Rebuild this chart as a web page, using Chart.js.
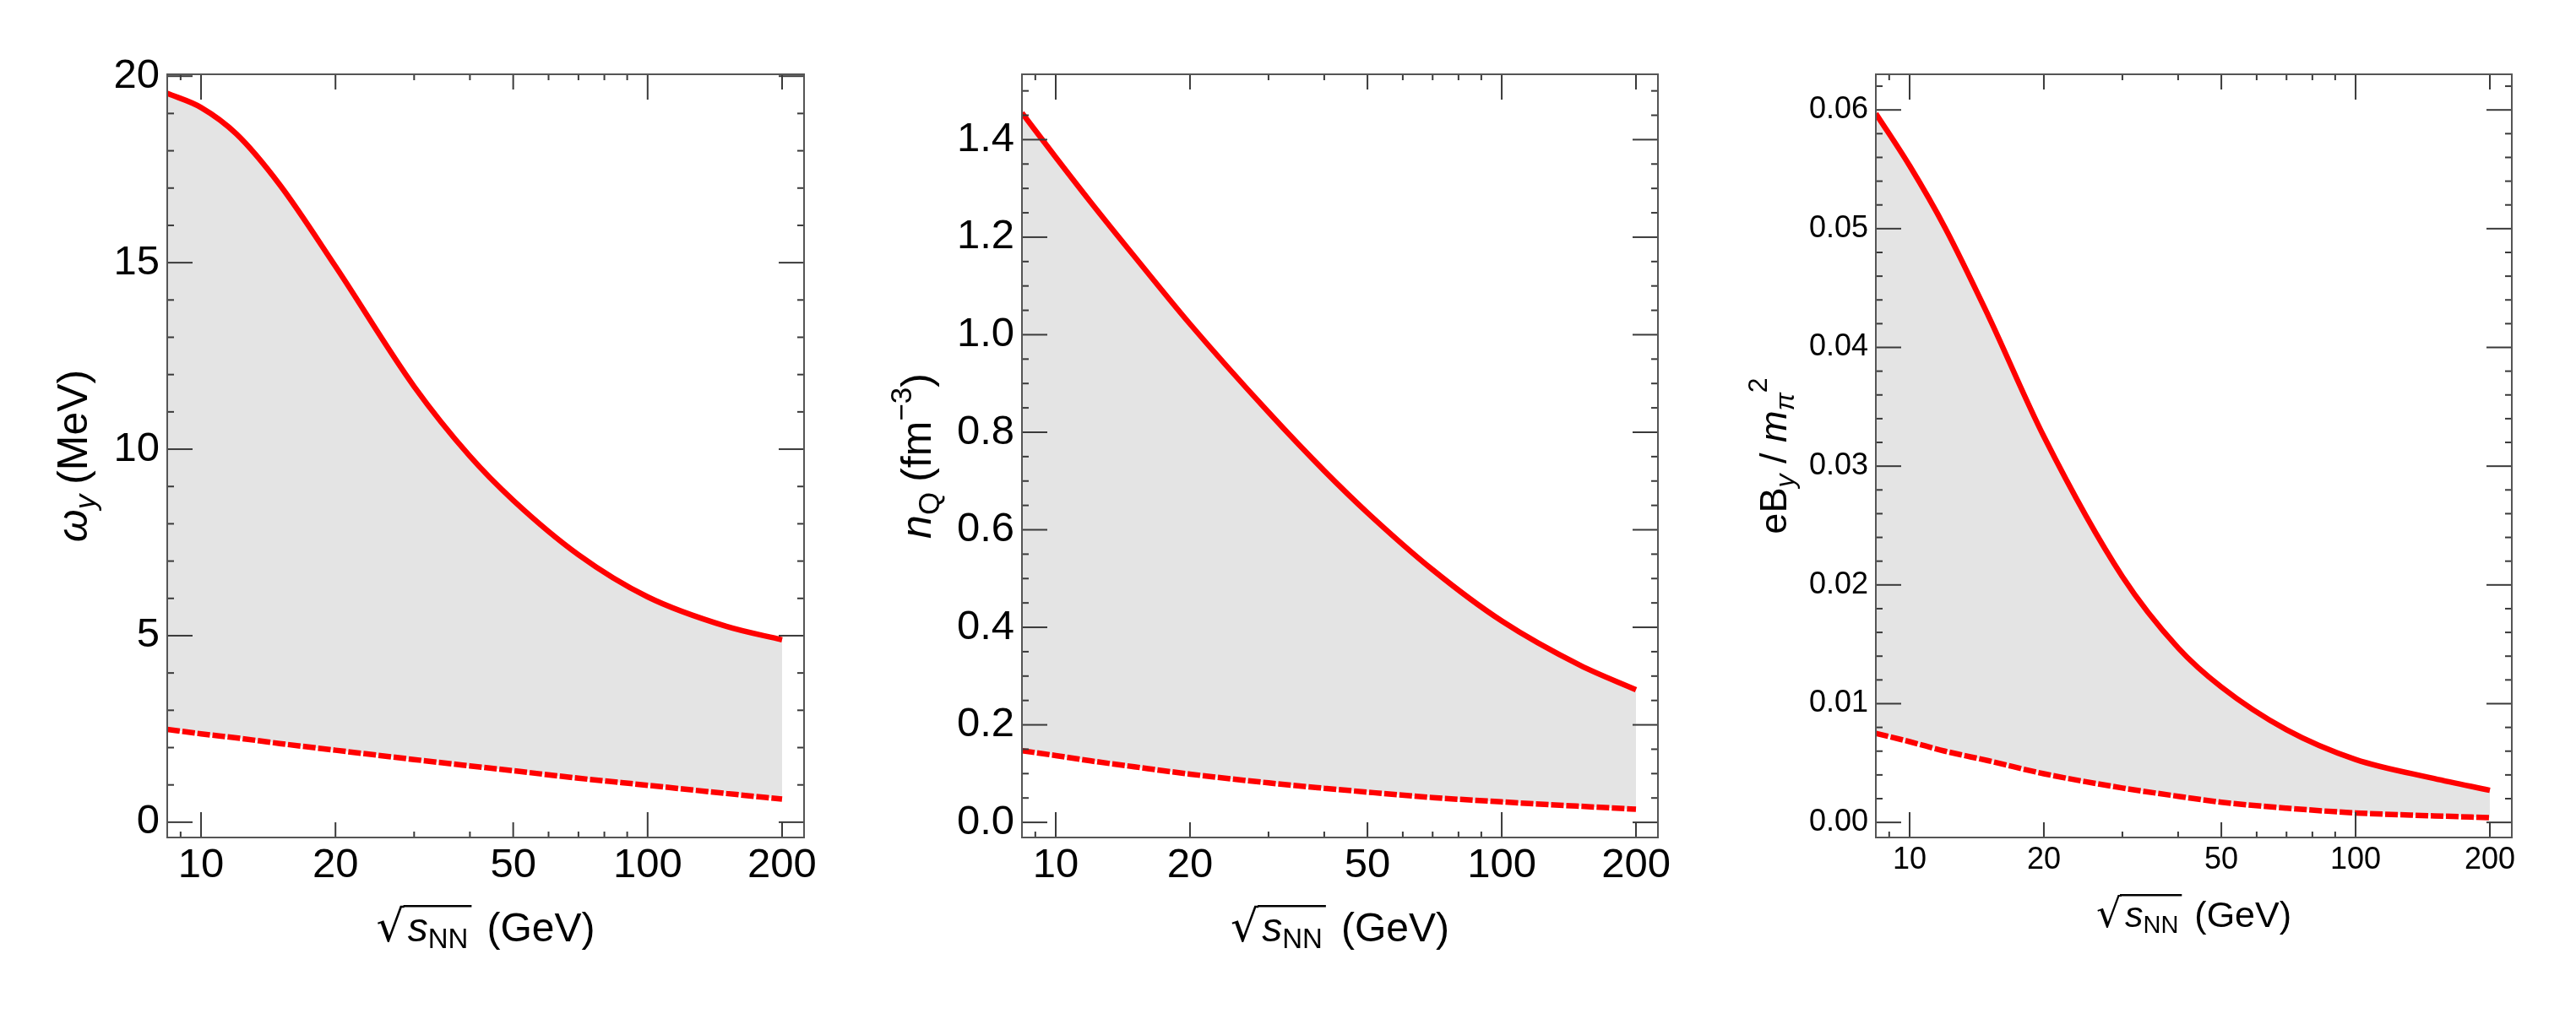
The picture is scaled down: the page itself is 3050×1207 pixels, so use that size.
<!DOCTYPE html>
<html>
<head>
<meta charset="utf-8">
<script src="https://cdn.jsdelivr.net/npm/chart.js@4.4.1/dist/chart.umd.min.js"></script>
<style>
html, body { margin: 0; padding: 0; background: #fff; }
#wrap { position: relative; width: 3050px; height: 1207px; }
canvas { position: absolute; top: 0; }
</style>
</head>
<body>
<div id="wrap">
  <canvas id="omegaChart" width="1012" height="1207" style="left:0px"></canvas>
  <canvas id="chargeChart" width="1012" height="1207" style="left:1012px"></canvas>
  <canvas id="fieldChart" width="1012" height="1207" style="left:2023px"></canvas>
</div>
<script>
// sqrt(s_NN) in GeV
const energies = [8.4, 10, 12, 15, 20, 30, 40, 50, 70, 100, 150, 200];

// omega_y (MeV)
const omegaUpper = [19.54, 19.16, 18.45, 17.09, 14.90, 11.68, 9.81, 8.63, 7.17, 6.04, 5.25, 4.89];
const omegaLower = [2.49, 2.37, 2.26, 2.11, 1.93, 1.68, 1.51, 1.38, 1.18, 0.99, 0.77, 0.62];
// n_Q (fm^-3)
const chargeUpper = [1.455, 1.364, 1.271, 1.161, 1.022, 0.841, 0.721, 0.635, 0.518, 0.413, 0.322, 0.272];
const chargeLower = [0.147, 0.137, 0.126, 0.114, 0.099, 0.081, 0.070, 0.062, 0.051, 0.042, 0.033, 0.027];
// eB_y / m_pi^2
const fieldUpper = [0.0597, 0.0553, 0.0501, 0.0427, 0.0325, 0.0207, 0.0147, 0.0114, 0.0078, 0.0053, 0.0037, 0.0027];
const fieldLower = [0.0075, 0.0068, 0.0060, 0.0052, 0.0041, 0.0029, 0.0022, 0.0017, 0.0012, 0.0008, 0.00055, 0.0004];

const xTicks = [10, 20, 50, 100, 200];
const xTickLabels = ['10', '20', '50', '100', '200'];
const xMinorTicks = [9, 30, 40, 60, 70, 80, 90];

const omegaTicks = [0, 5, 10, 15, 20];
const omegaTickLabels = ['0', '5', '10', '15', '20'];
const chargeTicks = [0, 0.2, 0.4, 0.6, 0.8, 1.0, 1.2, 1.4];
const chargeTickLabels = ['0.0', '0.2', '0.4', '0.6', '0.8', '1.0', '1.2', '1.4'];
const fieldTicks = [0, 0.01, 0.02, 0.03, 0.04, 0.05, 0.06];
const fieldTickLabels = ['0.00', '0.01', '0.02', '0.03', '0.04', '0.05', '0.06'];

const SANS = '"Liberation Sans", Arial, sans-serif';

function minorList(step, count, majors) {
    const out = [];
    for (let k = 1; k <= count; k++) {
        const v = +(k * step).toFixed(6);
        if (!majors.some(m => Math.abs(m - v) < step / 10)) out.push(v);
    }
    return out;
}

// frame with inward ticks on all four sides
const frameTicks = {
    id: 'frameTicks',
    afterDatasetsDraw(chart, args, opts) {
        const { ctx, chartArea: a } = chart;
        const xs = chart.scales.x, ys = chart.scales.y;
        const seg = (x1, y1, x2, y2) => { ctx.beginPath(); ctx.moveTo(x1, y1); ctx.lineTo(x2, y2); ctx.stroke(); };
        ctx.save();
        ctx.lineWidth = 2;
        ctx.strokeStyle = '#3a3a3a';
        const marks = [];
        xTicks.forEach(v => marks.push([v, (v === 10 || v === 100) ? 30 : 18]));
        xMinorTicks.forEach(v => marks.push([v, 7]));
        marks.forEach(([v, len]) => {
            const px = xs.getPixelForValue(v);
            seg(px, a.bottom, px, a.bottom - len);
            seg(px, a.top, px, a.top + len);
        });
        opts.major.forEach(v => {
            const py = ys.getPixelForValue(v);
            seg(a.left, py, a.left + 30, py);
            seg(a.right, py, a.right - 30, py);
        });
        opts.minor.forEach(v => {
            const py = ys.getPixelForValue(v);
            seg(a.left, py, a.left + 8, py);
            seg(a.right, py, a.right - 8, py);
        });
        ctx.strokeStyle = '#555';
        ctx.strokeRect(a.left, a.top, a.right - a.left, a.bottom - a.top);
        ctx.restore();
    }
};

function drawRich(ctx, parts, x, y, vertical) {
    ctx.save();
    ctx.translate(x, y);
    if (vertical) ctx.rotate(-Math.PI / 2);
    ctx.fillStyle = '#000';
    ctx.textBaseline = 'alphabetic';
    ctx.textAlign = 'left';
    let total = 0;
    parts.forEach(p => {
        ctx.font = p.font;
        p.w = ctx.measureText(p.text).width;
        total += p.w + (p.after || 0);
    });
    let cx = -total / 2;
    let radTop = null, lineStart = 0, lineEnd = 0;
    parts.forEach(p => {
        ctx.font = p.font;
        ctx.fillText(p.text, cx, p.dy || 0);
        if (p.radical) {
            const m = ctx.measureText(p.text);
            radTop = -m.actualBoundingBoxAscent;
            lineStart = cx + m.actualBoundingBoxRight - 2;
        }
        if (p.overlined) lineEnd = cx + p.w + 4;
        cx += p.w + (p.after || 0);
    });
    if (radTop !== null) {
        ctx.strokeStyle = '#000';
        ctx.lineWidth = 2.5;
        ctx.beginPath();
        ctx.moveTo(lineStart, radTop + 1.25);
        ctx.lineTo(lineEnd, radTop + 1.25);
        ctx.stroke();
    }
    ctx.restore();
}

const axisTitles = {
    id: 'axisTitles',
    afterDraw(chart, args, opts) {
        const { ctx, chartArea: a } = chart;
        drawRich(ctx, opts.yParts, a.left - opts.yGap, (a.top + a.bottom) / 2, true);
        drawRich(ctx, opts.xParts, (a.left + a.right) / 2, opts.xBase, false);
    }
};

function xTitleParts(size) {
    return [
        { text: '\u221A', font: `${size + 4}px "DejaVu Sans", sans-serif`, radical: true, after: 4 },
        { text: 's', font: `italic ${size}px ${SANS}`, overlined: true },
        { text: 'NN', font: `${Math.round(size * 0.68)}px ${SANS}`, dy: Math.round(size * 0.17), overlined: true, after: Math.round(size * 0.45) },
        { text: '(GeV)', font: `${size}px ${SANS}` }
    ];
}

function makePanel(id, cfg) {
    const panelMinor = minorList(cfg.minorStep, cfg.minorCount, cfg.ticks);
    return new Chart(document.getElementById(id), {
        type: 'line',
        data: {
            datasets: [{
                data: energies.map((e, i) => ({ x: e, y: cfg.upper[i] })),
                borderColor: '#ff0000',
                borderWidth: 6.5,
                borderCapStyle: 'butt',
                backgroundColor: '#e4e4e4',
                fill: '+1',
                pointRadius: 0,
                cubicInterpolationMode: 'monotone'
            }, {
                data: energies.map((e, i) => ({ x: e, y: cfg.lower[i] })),
                borderColor: '#ff0000',
                borderWidth: 6.5,
                borderDash: [15, 3],
                borderCapStyle: 'butt',
                fill: false,
                pointRadius: 0,
                cubicInterpolationMode: 'monotone'
            }]
        },
        options: {
            responsive: false,
            animation: false,
            events: [],
            layout: { padding: { top: 88, right: cfg.padRight, left: 0, bottom: 0 } },
            scales: {
                x: {
                    type: 'logarithmic',
                    min: 8.4,
                    max: 224,
                    grid: { display: false, drawTicks: false },
                    border: { display: false },
                    afterBuildTicks: s => { s.ticks = xTicks.map(v => ({ value: v })); },
                    afterFit: s => { s.height = 215; s.paddingLeft = 0; s.paddingRight = 0; },
                    ticks: {
                        autoSkip: false,
                        maxRotation: 0,
                        padding: cfg.xPad,
                        color: '#000',
                        font: { family: SANS, size: cfg.tickSize },
                        callback: (v, i) => xTickLabels[i]
                    }
                },
                y: {
                    type: 'linear',
                    min: cfg.yMin,
                    max: cfg.yMax,
                    grid: { display: false, drawTicks: false },
                    border: { display: false },
                    afterBuildTicks: s => { s.ticks = cfg.ticks.map(v => ({ value: v })); },
                    afterFit: s => { s.width = 198; s.paddingTop = 0; s.paddingBottom = 0; },
                    ticks: {
                        autoSkip: false,
                        padding: 9,
                        color: '#000',
                        font: { family: SANS, size: cfg.tickSize },
                        callback: (v, i) => cfg.labels[i]
                    }
                }
            },
            plugins: {
                legend: { display: false },
                tooltip: { enabled: false },
                filler: { drawTime: 'beforeDatasetsDraw' },
                frameTicks: { major: cfg.ticks, minor: panelMinor },
                axisTitles: { yParts: cfg.yTitle, yGap: cfg.yGap, xParts: xTitleParts(cfg.xTitleSize), xBase: cfg.xBase }
            }
        },
        plugins: [frameTicks, axisTitles]
    });
}

makePanel('omegaChart', {
    upper: omegaUpper, lower: omegaLower,
    ticks: omegaTicks, labels: omegaTickLabels,
    minorStep: 1, minorCount: 20,
    yMin: -0.41, yMax: 20.05,
    padRight: 60, tickSize: 49, xPad: 4,
    yGap: 95, xTitleSize: 48, xBase: 1115,
    yTitle: [
        { text: '\u03C9', font: `italic 50px ${SANS}` },
        { text: 'y', font: `italic 35px ${SANS}`, dy: 10, after: 12 },
        { text: '(MeV)', font: `50px ${SANS}` }
    ]
});

makePanel('chargeChart', {
    upper: chargeUpper, lower: chargeLower,
    ticks: chargeTicks, labels: chargeTickLabels,
    minorStep: 0.05, minorCount: 30,
    yMin: -0.031, yMax: 1.534,
    padRight: 61, tickSize: 49, xPad: 4,
    yGap: 108, xTitleSize: 48, xBase: 1115,
    yTitle: [
        { text: 'n', font: `italic 50px ${SANS}` },
        { text: 'Q', font: `35px ${SANS}`, dy: 10, after: 12 },
        { text: '(fm', font: `50px ${SANS}` },
        { text: '\u22123', font: `35px ${SANS}`, dy: -23 },
        { text: ')', font: `50px ${SANS}` }
    ]
});

makePanel('fieldChart', {
    upper: fieldUpper, lower: fieldLower,
    ticks: fieldTicks, labels: fieldTickLabels,
    minorStep: 0.002, minorCount: 31,
    yMin: -0.00127, yMax: 0.0630,
    padRight: 61, tickSize: 36, xPad: 5,
    yGap: 106, xTitleSize: 43, xBase: 1098,
    yTitle: [
        { text: 'eB', font: `45px ${SANS}` },
        { text: 'y', font: `italic 32px ${SANS}`, dy: 9 },
        { text: ' / ', font: `45px ${SANS}` },
        { text: 'm', font: `italic 45px ${SANS}` },
        { text: '\u03C0', font: `italic 32px ${SANS}`, dy: 9 },
        { text: '2', font: `32px ${SANS}`, dy: -23 }
    ]
});
</script>
</body>
</html>
